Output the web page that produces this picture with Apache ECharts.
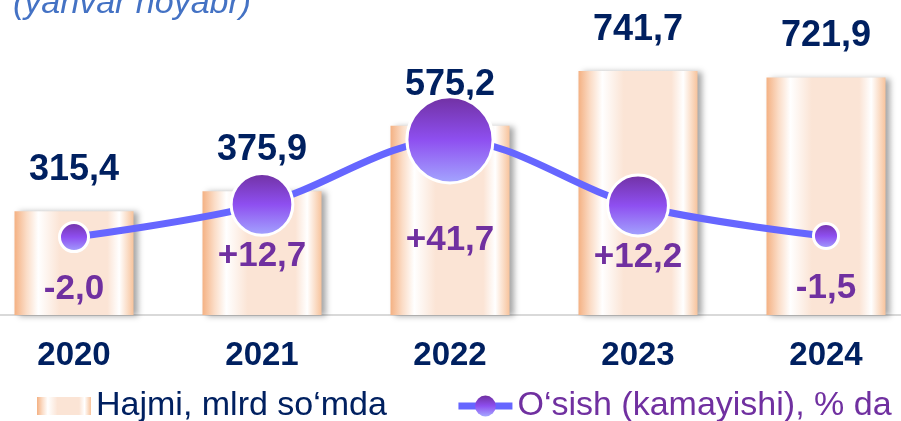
<!DOCTYPE html>
<html>
<head>
<meta charset="utf-8">
<script src="https://cdn.jsdelivr.net/npm/echarts@6/dist/echarts.min.js"></script>
<style>
  html, body { margin: 0; padding: 0; background: #fff; overflow: hidden; }
  /* chart is a bit wider than the window so the first and last bars sit like in the source */
  #chart { width: 940px; height: 421px; margin-left: -20px; }
</style>
</head>
<body>
<div id="chart"></div>
<script>
// values
const years = ['2020', '2021', '2022', '2023', '2024'];
const volume = [315.4, 375.9, 575.2, 741.7, 721.9];   // Hajmi, mlrd so'mda
const growth = [-2.0, 12.7, 41.7, 12.2, -1.5];        // O'sish (kamayishi), % da

const FONT = 'Liberation Sans, Arial, sans-serif';

function comma(v) { return v.toFixed(1).replace('.', ','); }
function markSize(v) { return 5.4 + 21.5 * Math.log(1 + Math.abs(v)); }
function labelDy(v) { return 52 + Math.max(0, markSize(v) - 70) * 3; }

const barColor = new echarts.graphic.LinearGradient(0, 0, 1, 0, [
  { offset: 0, color: '#f4b183' },
  { offset: 0.1, color: '#fbdcc6' },
  { offset: 0.2, color: '#ffffff' },
  { offset: 0.38, color: '#fbe4d5' },
  { offset: 0.78, color: '#fbe4d5' },
  { offset: 0.88, color: '#ffffff' },
  { offset: 1, color: '#f7c39c' }
]);
const dotColor = new echarts.graphic.LinearGradient(0, 0, 0, 1, [
  { offset: 0, color: '#7030a0' },
  { offset: 0.5, color: '#8e4ff0' },
  { offset: 1, color: '#a4a8ff' }
]);

let chart = echarts.init(document.getElementById('chart'));
let option = {
  backgroundColor: '#ffffff',
  animation: false,
  title: {
    text: '(yanvar noyabr)',
    left: 28,
    top: -18,
    textStyle: { color: '#4472c4', fontStyle: 'italic', fontWeight: 'normal', fontSize: 34, fontFamily: FONT }
  },
  legend: {
    left: 57,
    top: 389,
    padding: 0,
    itemWidth: 54,
    itemHeight: 26,
    itemGap: 68,
    textStyle: { fontSize: 34, fontFamily: FONT },
    data: [
      {
        name: 'Hajmi, mlrd so‘mda',
        icon: 'path://M0,0M0,4H54V22H0ZM54,26',
        textStyle: { color: '#002060' }
      },
      {
        name: 'O‘sish (kamayishi), % da',
        lineStyle: { width: 7, color: '#6666ff' },
        itemStyle: { borderWidth: 0 },
        textStyle: { color: '#7030a0' }
      }
    ]
  },
  grid: { left: 0, right: 0, top: 19, bottom: 106 },
  xAxis: {
    type: 'category',
    data: years,
    axisLine: { lineStyle: { color: '#d9d9d9', width: 2 } },
    axisTick: { show: false },
    axisLabel: { color: '#002060', fontWeight: 'bold', fontSize: 33, fontFamily: FONT, margin: 24 }
  },
  yAxis: [
    { type: 'value', min: 0, max: 900, show: false, splitLine: { show: false } },
    { type: 'value', min: -37, max: 96, show: false, splitLine: { show: false } }
  ],
  series: [
    {
      name: 'Hajmi, mlrd so‘mda',
      type: 'bar',
      barWidth: 119,
      data: volume,
      itemStyle: {
        color: barColor,
        shadowColor: 'rgba(0,0,0,0.35)',
        shadowBlur: 6,
        shadowOffsetX: 4,
        shadowOffsetY: 1
      },
      label: {
        show: true,
        position: 'top',
        distance: 23,
        color: '#002060',
        fontWeight: 'bold',
        fontSize: 36,
        fontFamily: FONT,
        formatter: p => comma(p.value)
      }
    },
    {
      name: 'O‘sish (kamayishi), % da',
      type: 'line',
      yAxisIndex: 1,
      smooth: 0.35,
      symbol: 'circle',
      symbolSize: v => markSize(v),
      data: growth.map(v => ({ value: v, label: { offset: [0, labelDy(v)] } })),
      lineStyle: { color: '#6666ff', width: 7 },
      itemStyle: { color: dotColor, borderColor: '#ffffff', borderWidth: 3 },
      label: {
        show: true,
        position: 'inside',
        color: '#7030a0',
        fontWeight: 'bold',
        fontSize: 35,
        fontFamily: FONT,
        formatter: p => (p.value > 0 ? '+' : '') + comma(p.value)
      },
      z: 3
    }
  ]
};
chart.setOption(option);
</script>
</body>
</html>
